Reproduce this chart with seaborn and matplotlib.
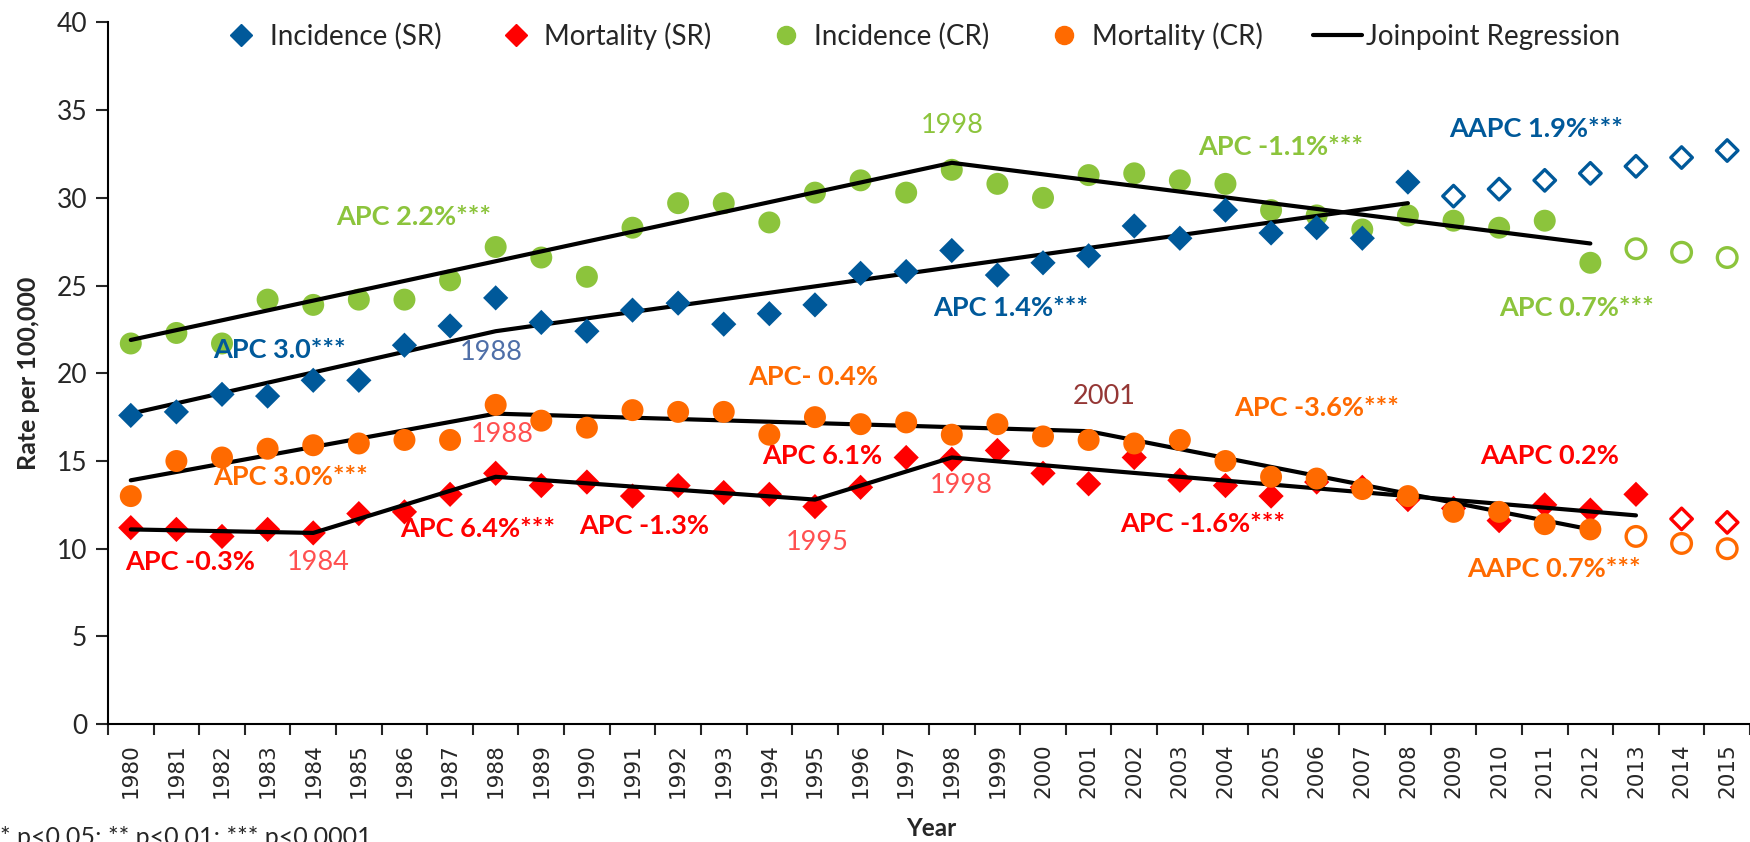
import numpy as np
import pandas as pd
import seaborn as sns
import matplotlib
matplotlib.use("Agg")
import matplotlib.pyplot as plt
from matplotlib.lines import Line2D

# ---- data ----
years = list(range(1980, 2016))

inc_sr = [17.6, 17.8, 18.8, 18.7, 19.6, 19.6, 21.6, 22.7, 24.3, 22.9,
          22.4, 23.6, 24.0, 22.8, 23.4, 23.9, 25.7, 25.8, 27.0, 25.6,
          26.3, 26.7, 28.4, 27.7, 29.3, 28.0, 28.3, 27.7, 30.9]
inc_sr_proj = [30.1, 30.5, 31.0, 31.4, 31.8, 32.3, 32.7]          # 2009-2015

mort_sr = [11.2, 11.1, 10.7, 11.1, 10.9, 12.0, 12.1, 13.1, 14.3, 13.6,
           13.8, 13.0, 13.6, 13.2, 13.1, 12.4, 13.5, 15.2, 15.1, 15.6,
           14.3, 13.7, 15.2, 13.9, 13.6, 13.0, 13.8, 13.5, 12.8, 12.3,
           11.6, 12.5, 12.2, 13.1]
mort_sr_proj = [11.7, 11.5]                                        # 2014-2015

inc_cr = [21.7, 22.3, 21.7, 24.2, 23.9, 24.2, 24.2, 25.3, 27.2, 26.6,
          25.5, 28.3, 29.7, 29.7, 28.6, 30.3, 31.0, 30.3, 31.6, 30.8,
          30.0, 31.3, 31.4, 31.0, 30.8, 29.3, 29.0, 28.2, 29.0, 28.7,
          28.3, 28.7, 26.3]
inc_cr_proj = [27.1, 26.9, 26.6]                                   # 2013-2015

mort_cr = [13.0, 15.0, 15.2, 15.7, 15.9, 16.0, 16.2, 16.2, 18.2, 17.3,
           16.9, 17.9, 17.8, 17.8, 16.5, 17.5, 17.1, 17.2, 16.5, 17.1,
           16.4, 16.2, 16.0, 16.2, 15.0, 14.1, 14.0, 13.4, 13.0, 12.1,
           12.1, 11.4, 11.1]
mort_cr_proj = [10.7, 10.3, 10.0]                                  # 2013-2015

# joinpoint regression segments
jp_inc_sr_x = [1980, 1988, 2008]
jp_inc_sr_y = [17.7, 22.4, 29.7]
jp_inc_cr_x = [1980, 1998, 2012]
jp_inc_cr_y = [21.9, 32.0, 27.4]
jp_mort_cr_x = [1980, 1988, 2001, 2012]
jp_mort_cr_y = [13.9, 17.7, 16.7, 11.1]
jp_mort_sr_x = [1980, 1984, 1988, 1995, 1998, 2013]
jp_mort_sr_y = [11.1, 10.9, 14.1, 12.8, 15.2, 11.9]

BLUE = "#00599a"
RED = "#ff0000"
GREEN = "#8cc43c"
ORANGE = "#ff6a00"
BLUE_LT = "#4f6fa8"
RED_LT = "#ff5050"
BROWN = "#953735"

# annotations: text, x, y, colour, bold
notes = [
    ("APC 2.2%***", 1986.2, 28.9, GREEN, True),
    ("APC 3.0***", 1983.25, 21.3, BLUE, True),
    ("1988", 1987.9, 21.2, BLUE_LT, False),
    ("1998", 1998.0, 34.1, GREEN, False),
    ("APC 1.4%***", 1999.3, 23.7, BLUE, True),
    ("APC -1.1%***", 2005.2, 32.9, GREEN, True),
    ("AAPC 1.9%***", 2010.8, 33.9, BLUE, True),
    ("APC 0.7%***", 2011.7, 23.7, GREEN, True),
    ("APC- 0.4%", 1994.95, 19.8, ORANGE, True),
    ("2001", 2001.35, 18.65, BROWN, False),
    ("APC -3.6%***", 2006.0, 18.0, ORANGE, True),
    ("APC 3.0%***", 1983.5, 14.1, ORANGE, True),
    ("1988", 1988.15, 16.5, RED_LT, False),
    ("APC 6.1%", 1995.15, 15.3, RED, True),
    ("1998", 1998.2, 13.6, RED_LT, False),
    ("AAPC 0.2%", 2011.1, 15.3, RED, True),
    ("APC -0.3%", 1981.3, 9.25, RED, True),
    ("1984", 1984.1, 9.2, RED_LT, False),
    ("APC 6.4%***", 1987.6, 11.15, RED, True),
    ("APC -1.3%", 1991.25, 11.3, RED, True),
    ("1995", 1995.05, 10.35, RED_LT, False),
    ("APC -1.6%***", 2003.5, 11.4, RED, True),
    ("AAPC 0.7%***", 2011.2, 8.85, ORANGE, True),
]

sns.set_theme(style="white")
plt.rcParams["font.family"] = ["Lato", "DejaVu Sans"]

fig = plt.figure(figsize=(17.5, 8.42), dpi=100)
ax = fig.add_axes([0.0617, 0.140, 0.9383, 0.8333])

def series(vals, start):
    return pd.DataFrame({"year": years[start - 1980:start - 1980 + len(vals)], "rate": vals})

d_inc_sr = series(inc_sr, 1980)
d_inc_sr_p = series(inc_sr_proj, 2009)
d_mort_sr = series(mort_sr, 1980)
d_mort_sr_p = series(mort_sr_proj, 2014)
d_inc_cr = series(inc_cr, 1980)
d_inc_cr_p = series(inc_cr_proj, 2013)
d_mort_cr = series(mort_cr, 1980)
d_mort_cr_p = series(mort_cr_proj, 2013)

dia = 165
circ = 250

# joinpoint lines
for jx, jy in [(jp_inc_sr_x, jp_inc_sr_y), (jp_inc_cr_x, jp_inc_cr_y),
               (jp_mort_cr_x, jp_mort_cr_y), (jp_mort_sr_x, jp_mort_sr_y)]:
    sns.lineplot(x=jx, y=jy, ax=ax, color="black", lw=3.0, sort=False,
                 estimator=None, zorder=3)

sns.scatterplot(data=d_inc_cr, x="year", y="rate", ax=ax, marker="o", s=circ,
                color=GREEN, edgecolor="none", zorder=2)
sns.scatterplot(data=d_inc_sr, x="year", y="rate", ax=ax, marker="D", s=dia,
                color=BLUE, edgecolor="none", zorder=4)
sns.scatterplot(data=d_mort_sr, x="year", y="rate", ax=ax, marker="D", s=dia,
                color=RED, edgecolor="none", zorder=2)
sns.scatterplot(data=d_mort_cr, x="year", y="rate", ax=ax, marker="o", s=circ,
                color=ORANGE, edgecolor="none", zorder=4)

# projected (hollow) points
sns.scatterplot(data=d_inc_sr_p, x="year", y="rate", ax=ax, marker="D", s=120,
                facecolor="none", edgecolor=BLUE, linewidth=2.4, zorder=4)
sns.scatterplot(data=d_mort_sr_p, x="year", y="rate", ax=ax, marker="D", s=120,
                facecolor="none", edgecolor=RED, linewidth=2.4, zorder=4)
sns.scatterplot(data=d_inc_cr_p, x="year", y="rate", ax=ax, marker="o", s=200,
                facecolor="none", edgecolor=GREEN, linewidth=2.4, zorder=4)
sns.scatterplot(data=d_mort_cr_p, x="year", y="rate", ax=ax, marker="o", s=200,
                facecolor="none", edgecolor=ORANGE, linewidth=2.4, zorder=4)

for txt, x, y, c, b in notes:
    ax.text(x, y, txt, color=c, fontsize=19.5, ha="center", va="center",
            fontweight="bold" if b else "normal", zorder=6)

ax.set_xlim(1979.5, 2015.5)
ax.set_ylim(0, 40)
ax.set_yticks(range(0, 41, 5))
ax.tick_params(axis="y", labelsize=19, length=9, width=1.5, direction="out",
               left=True, pad=6)
# category boundaries carry the tick marks, labels sit at category centres
ax.set_xticks(np.arange(1979.5, 2016, 1.0))
ax.set_xticklabels([])
ax.set_xticks(years, minor=True)
ax.set_xticklabels([str(y) for y in years], minor=True, rotation=90,
                   family="DejaVu Sans", fontsize=15.5)
ax.tick_params(axis="x", which="major", length=8, width=1.5, direction="out",
               bottom=True)
ax.tick_params(axis="x", which="minor", length=0, pad=14)

for side in ["top", "right"]:
    ax.spines[side].set_visible(False)
for side in ["left", "bottom"]:
    ax.spines[side].set_color("black")
    ax.spines[side].set_linewidth(1.5)

ax.set_xlabel("")
ax.set_ylabel("Rate per 100,000", fontsize=18, fontweight="bold", labelpad=12)
fig.text(0.532, 1 - 829 / 842, "Year", fontsize=17.5, fontweight="bold",
         ha="center", va="center")
fig.text(0.0, 1 - 826 / 842, "* p<0.05; ** p<0.01; *** p<0.0001", fontsize=18,
         ha="left", va="top")

handles = [
    Line2D([], [], ls="none", marker="D", ms=11, color=BLUE),
    Line2D([], [], ls="none", marker="D", ms=11, color=RED),
    Line2D([], [], ls="none", marker="o", ms=13, color=GREEN),
    Line2D([], [], ls="none", marker="o", ms=13, color=ORANGE),
    Line2D([], [], color="black", lw=3.0),
]
labels = ["Incidence (SR)", "Mortality (SR)", "Incidence (CR)", "Mortality (CR)",
          "Joinpoint Regression"]
fig.legend(handles, labels, loc="center", bbox_to_anchor=(0.5248, 0.957), ncol=5,
           frameon=False, fontsize=20, handlelength=1.75, handletextpad=0.15,
           columnspacing=1.8)

fig.savefig("out.png", dpi=100)
